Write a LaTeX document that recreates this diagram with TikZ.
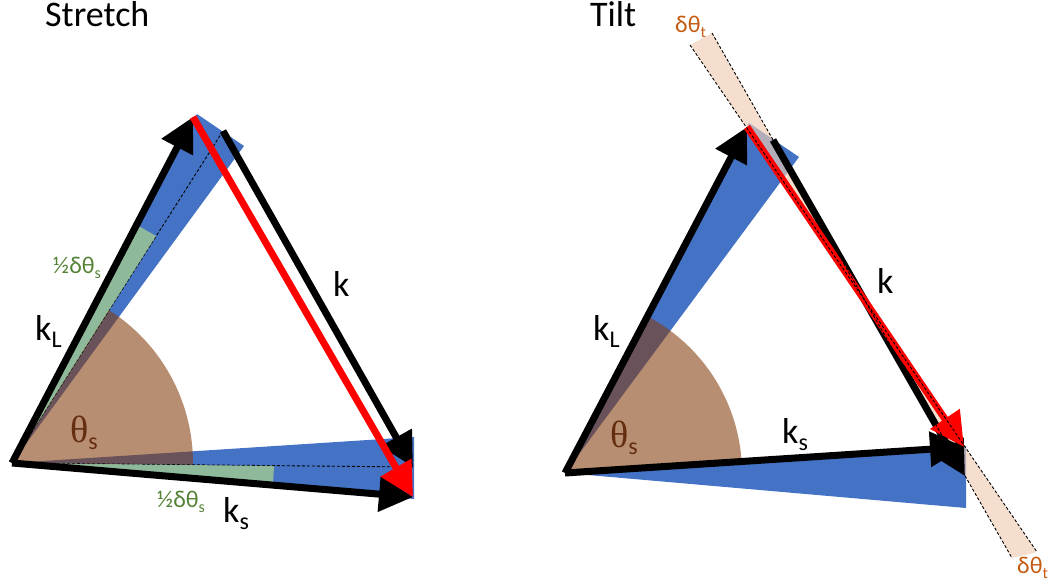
\documentclass[tikz,border=0pt]{standalone}
\usepackage{fontspec}
\setmainfont{Carlito}
\newfontfamily\thetafont{Liberation Serif}
\usetikzlibrary{arrows.meta,calc}
\definecolor{wedgeblue}{RGB}{68,114,196}
\definecolor{sectorbrown}{RGB}{132,60,12}
\definecolor{wedgegreen}{RGB}{169,209,142}
\definecolor{labelgreen}{RGB}{84,130,53}
\definecolor{bandpeach}{RGB}{240,205,180}
\definecolor{labelorange}{RGB}{197,90,17}
\definecolor{thetabrown}{RGB}{100,45,15}
\newcommand{\bigsub}[1]{\raisebox{-7pt}{\fontsize{24}{24}\selectfont #1}}
\newcommand{\smallsub}[1]{\raisebox{-5pt}{\fontsize{16}{16}\selectfont #1}}
\tikzset{
  vec/.style={line width=7pt, -{Triangle[length=34pt,width=34pt]}},
  redvec/.style={vec, draw=red, fill=red},
  dashline/.style={draw=black, line width=0.9pt, dash pattern=on 3pt off 2pt},
  bluewedge/.style={fill=wedgeblue},
  greenwedge/.style={fill=wedgegreen, fill opacity=0.75},
  brownsector/.style={fill=sectorbrown, fill opacity=0.58},
  peachband/.style={fill=bandpeach, fill opacity=0.65},
  biglabel/.style={inner sep=0pt, anchor=base west, font=\fontsize{36}{36}\selectfont},
  smalllabel/.style={inner sep=0pt, anchor=base west, font=\fontsize{24}{24}\selectfont},
}
\begin{document}
\begin{tikzpicture}[x=1pt,y=-1pt]
\useasboundingbox (0,0) rectangle (1054,588);
% ---------------- Stretch ----------------
\coordinate (O) at (12,463);
\coordinate (A) at (193,117);
\coordinate (A0) at (223,131);
\coordinate (B) at (413,497);
\coordinate (B0) at (413,467);
\fill[bluewedge] (O) -- (197,114) -- (244,146) -- cycle;
\fill[bluewedge] (O) -- (414,437) -- (414,499) -- cycle;
\fill[brownsector] (O) -- ++(-0.6:181pt) arc[start angle=-0.6, end angle=57.8, radius=181pt] -- cycle;
\draw[dashline] (O) -- (A0);
\draw[dashline] (O) -- (B0);
\fill[greenwedge] (O) -- (137,225) -- (156,236) -- cycle;
\fill[greenwedge] (O) -- (274,466) -- (273,485) -- cycle;
\draw[vec] (O) -- (A);
\draw[vec] (O) -- (B);
\draw[vec] (A0) -- (B0);
\draw[redvec] (A) -- (B);
\node[biglabel] (stretch) at (45,27) {Stretch};
\node[biglabel] (kL1) at (35,340) {k\bigsub{L}};
\node[biglabel] (k1) at (333,296) {k};
\node[biglabel] (ks1) at (223,522) {k\bigsub{s}};
\node[biglabel, text=thetabrown] (th1) at (70,442) {{\thetafont\fontsize{38}{38}\selectfont θ}\bigsub{s}};
\node[smalllabel, text=labelgreen] (hd1) at (53,273) {½δθ\smallsub{s}};
\node[smalllabel, text=labelgreen] (hd2) at (157,507) {½δθ\smallsub{s}};
% ---------------- Tilt ----------------
\coordinate (P) at (565,473);
\coordinate (C) at (747,127);
\coordinate (D) at (964,447);
\coordinate (C0) at (773,140);
\coordinate (D0) at (965,476);
\coordinate (L1a) at (690,45);
\coordinate (L1b) at (1037,552);
\coordinate (L2a) at (712,33);
\coordinate (L2b) at (1012,558);
\fill[bluewedge] (P) -- (749,123) -- (799,157) -- cycle;
\fill[bluewedge] (P) -- (966,446) -- (966,508) -- cycle;
\fill[brownsector] (P) -- ++(3.7:177pt) arc[start angle=3.7, end angle=62.3, radius=177pt] -- cycle;
\fill[peachband] (L1a) -- (L2a) -- (L2b) -- (L1b) -- cycle;
\draw[vec] (P) -- (C);
\draw[vec] (P) -- (D);
\draw[vec] (C0) -- (D0);
\draw[redvec] (C) -- (D);
\draw[dashline] (L1a) -- (L1b);
\draw[dashline] (L2a) -- (L2b);
\node[biglabel] (tilt) at (590,27) {Tilt};
\node[biglabel] (kL2) at (593,340) {k\bigsub{L}};
\node[biglabel] (k2) at (877,293) {k};
\node[biglabel] (ks2) at (782,443) {k\bigsub{s}};
\node[biglabel, text=thetabrown] (th2) at (610,447) {{\thetafont\fontsize{38}{38}\selectfont θ}\bigsub{s}};
\node[smalllabel, text=labelorange] (dt1) at (675,33) {δθ\smallsub{t}};
\node[smalllabel, text=labelorange] (dt2) at (1017,573) {δθ\smallsub{t}};
\end{tikzpicture}
\end{document}
